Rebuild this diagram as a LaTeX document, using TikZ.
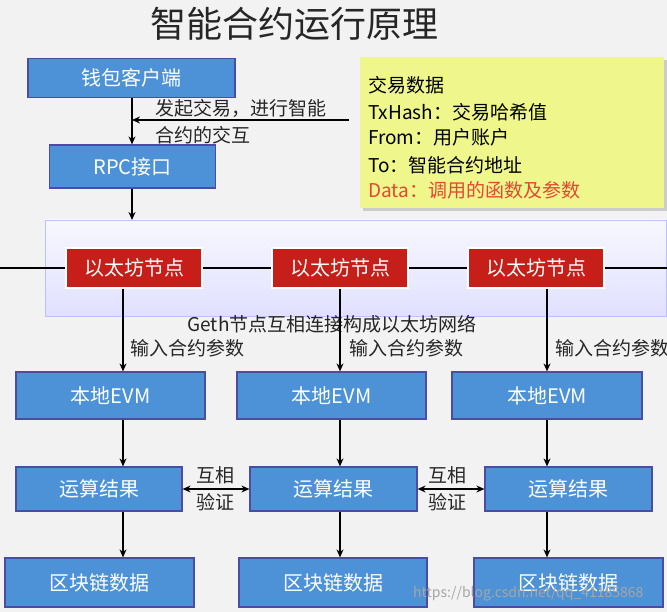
\documentclass[tikz,border=0pt]{standalone}
\usepackage{fontspec}
\setmainfont{Noto Sans CJK SC}
\usetikzlibrary{arrows.meta}
\begin{document}
\begin{tikzpicture}[x=1pt,y=-1pt,
  bluebox/.style={draw=blue!50!black!70,line width=1.2pt,fill={rgb,255:red,77;green,146;blue,214},text=white,font=\fontsize{20}{21}\selectfont,inner sep=0pt},
  redbox/.style={draw=white,line width=1.5pt,fill={rgb,255:red,198;green,30;blue,24},text=white,font=\fontsize{20}{21}\selectfont,inner sep=0pt},
  arr/.style={-{Stealth[length=8pt,width=7pt]},line width=1.3pt},
  darr/.style={{Stealth[length=8pt,width=7pt]}-{Stealth[length=8pt,width=7pt]},line width=1.3pt},
  lbl/.style={font=\fontsize{19}{20}\selectfont,text=black!85,inner sep=0pt}]
\useasboundingbox (0,0) rectangle (667,612);
\fill[black!5] (0,0) rectangle (667,612);
\node[font=\fontsize{36}{38}\selectfont,text=black!85] (title) at (294,24) {智能合约运行原理};
% network panel
\shade[top color=blue!3,bottom color=blue!12,draw=blue!25] (45,220) rectangle (666,316);
\coordinate (L) at (0,268); \coordinate (R) at (667,268);
\draw[line width=1.3pt] (L) -- (R);
% top boxes
\node[bluebox,minimum width=207pt,minimum height=39pt] (wallet) at (131.5,78) {钱包客户端};
\node[bluebox,minimum width=166pt,minimum height=43pt] (rpc) at (132.5,166.5) {RPC接口};
\draw[arr] (wallet.south -| 132,0) -- (rpc.north -| 132,0);
\coordinate (hs) at (349,120); \coordinate (he) at (132,120);
\draw[arr] (hs) -- (he);
\node[lbl,anchor=west] (t1) at (155,108) {发起交易，进行智能};
\node[lbl,anchor=west] (t2) at (155,135) {合约的交互};
\coordinate (pt) at (132,220);
\draw[arr] (rpc.south -| 132,0) -- (pt);
% note
\fill[black!20] (363,60) rectangle (667,211);
\node[fill={rgb,255:red,238;green,246;blue,140},minimum width=304pt,minimum height=151pt,inner sep=0pt] (note) at (512,132.5) {};
\node[anchor=west,inner sep=0pt,font=\fontsize{19}{20}\selectfont,align=left] (n1) at (368,85) {交易数据};
\node[anchor=west,inner sep=0pt,font=\fontsize{19}{20}\selectfont] (n2) at (368,112) {TxHash：交易哈希值};
\node[anchor=west,inner sep=0pt,font=\fontsize{19}{20}\selectfont] (n3) at (368,137) {From：用户账户};
\node[anchor=west,inner sep=0pt,font=\fontsize{19}{20}\selectfont] (n4) at (368,165) {To：智能合约地址};
\node[anchor=west,inner sep=0pt,font=\fontsize{19}{20}\selectfont,text={rgb,255:red,230;green,70;blue,50}] (n5) at (368,190) {Data：调用的函数及参数};
% eth nodes
\foreach \n/\x in {1/134,2/340,3/536}{
  \node[redbox,minimum width=136pt,minimum height=40pt] (eth\n) at (\x,268) {以太坊节点};
}
\node[lbl] (geth) at (332,324) {Geth节点互相连接构成以太坊网络};
% columns
\foreach \n/\cx/\ex/\ew/\rx/\rw/\bx/\bw in {1/123/110.5/189/99/166/99.5/189, 2/340/331.5/189/333.5/167/333/188, 3/547/547/190/568.5/167/568.5/189}{
  \node[bluebox,minimum width=\ew pt,minimum height=47pt] (evm\n) at (\ex,395.5) {本地EVM};
  \node[bluebox,minimum width=\rw pt,minimum height=44pt] (res\n) at (\rx,489) {运算结果};
  \node[bluebox,minimum width=\bw pt,minimum height=49pt] (blk\n) at (\bx,582.5) {区块链数据};
  \draw[arr] (eth\n.south -| \cx,0) -- (evm\n.north -| \cx,0);
  \draw[arr] (evm\n.south -| \cx,0) -- (res\n.north -| \cx,0);
  \draw[arr] (res\n.south -| \cx,0) -- (blk\n.north -| \cx,0);
}
\node[lbl,anchor=west] (in1) at (130,348) {输入合约参数};
\node[lbl,anchor=west] (in2) at (349,348) {输入合约参数};
\node[lbl,anchor=west] (in3) at (555,348) {输入合约参数};
\draw[darr] (res1.east) -- (res2.west);
\draw[darr] (res2.east) -- (res3.west);
\node[lbl] (v1a) at (215,475) {互相};
\node[lbl] (v1b) at (215,502) {验证};
\node[lbl] (v2a) at (447,475) {互相};
\node[lbl] (v2b) at (447,502) {验证};
\node[font=\fontsize{14}{15}\selectfont,text=black!35,anchor=west,inner sep=0pt] (wm) at (413,594) {https://blog.csdn.net/qq\_41185868};
\end{tikzpicture}
\end{document}
